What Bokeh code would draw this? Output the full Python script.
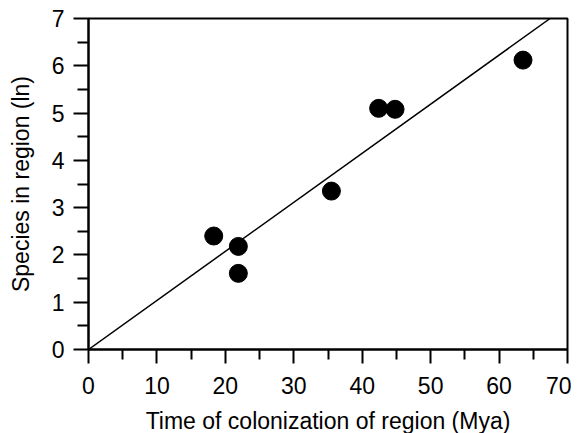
import numpy as np
from bokeh.plotting import figure
from bokeh.models import FixedTicker, Range1d
from bokeh.embed import file_html
from bokeh.resources import INLINE

# Data
time_mya = [18.3, 21.9, 21.9, 35.5, 42.4, 44.8, 63.5]
species_ln = [2.40, 2.18, 1.61, 3.35, 5.10, 5.08, 6.12]

x_major = [0, 10, 20, 30, 40, 50, 60, 70]
x_minor = [5, 15, 25, 35, 45, 55, 65]
y_major = [0, 1, 2, 3, 4, 5, 6, 7]
y_minor = [0.5, 1.5, 2.5, 3.5, 4.5, 5.5, 6.5]

# regression through the origin
xa = np.array(time_mya)
ya = np.array(species_ln)
slope = float((xa * ya).sum() / (xa * xa).sum())
line_x = [0, 7 / slope]
line_y = [0, 7]

FONT = "Liberation Sans"

p = figure(frame_width=479, frame_height=331, output_backend="svg", toolbar_location=None,
           x_range=Range1d(0, 70), y_range=Range1d(0, 7),
           min_border_left=88, min_border_right=4, min_border_top=18, min_border_bottom=10)
p.background_fill_color = "white"
p.border_fill_color = "white"
p.outline_line_color = "black"
p.outline_line_width = 2
p.outline_line_alpha = 1
p.grid.visible = False

p.line(line_x, line_y, line_color="black", line_width=1.5)
p.scatter(time_mya, species_ln, size=18, fill_color="black", line_color="black")

p.xaxis.ticker = FixedTicker(ticks=x_major, minor_ticks=x_minor)
p.yaxis.ticker = FixedTicker(ticks=y_major, minor_ticks=y_minor)

for ax in (p.xaxis, p.yaxis):
    ax.axis_line_color = "black"
    ax.axis_line_width = 2
    ax.major_tick_line_color = "black"
    ax.major_tick_line_width = 2
    ax.minor_tick_line_color = "black"
    ax.minor_tick_line_width = 2
    ax.major_tick_in = 0
    ax.minor_tick_in = 0
    ax.major_label_text_font = FONT
    ax.major_label_text_font_size = "23px"
    ax.major_label_text_color = "black"
    ax.axis_label_text_font = FONT
    ax.axis_label_text_font_size = "23px"
    ax.axis_label_text_font_style = "normal"
    ax.axis_label_text_color = "black"

p.xaxis.major_tick_out = 14
p.xaxis.minor_tick_out = 10
p.yaxis.major_tick_out = 15
p.yaxis.minor_tick_out = 11
p.xaxis.major_label_standoff = 13
p.yaxis.major_label_standoff = 9
p.xaxis.axis_label = "Time of colonization of region (Mya)"
p.yaxis.axis_label = "Species in region (ln)"
p.xaxis.axis_label_standoff = 11
p.yaxis.axis_label_standoff = 15

open("out.html", "w").write(file_html(p, INLINE))
